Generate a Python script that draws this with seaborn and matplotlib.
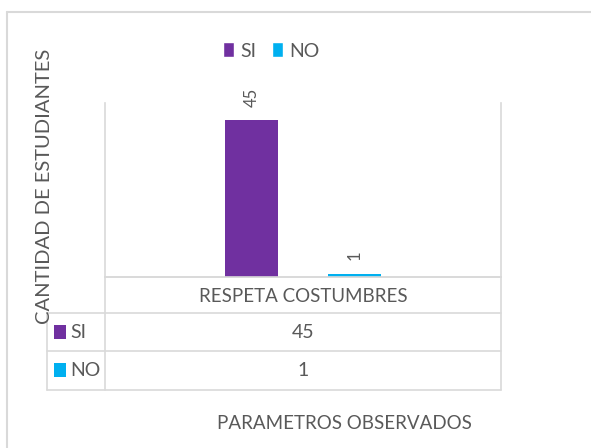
import matplotlib
matplotlib.use("Agg")
import matplotlib.pyplot as plt
from matplotlib.lines import Line2D
from matplotlib.patches import Patch, Rectangle
import pandas as pd
import seaborn as sns

# datos
parametros = ["RESPETA COSTUMBRES"]
respuestas = ["SI", "NO"]
cantidades = [45, 1]
colores = ["#7030A0", "#00B0F0"]

W, H = 591, 448
gris = "#595959"
linea = "#D9D9D9"

sns.set_theme(style="white")
plt.rcParams["font.family"] = ["Lato", "DejaVu Sans"]

df = pd.DataFrame({
    "parametro": parametros * len(respuestas),
    "respuesta": respuestas,
    "cantidad": cantidades,
})


def fx(x):
    return x / W


def fy(y):
    return 1 - y / H


def hline(x0, x1, y):
    fig.add_artist(Line2D([fx(x0), fx(x1)], [fy(y), fy(y)], color=linea, lw=1.2))


def vline(x, y0, y1):
    fig.add_artist(Line2D([fx(x), fx(x)], [fy(y0), fy(y1)], color=linea, lw=1.2))


fig = plt.figure(figsize=(W / 100, H / 100), dpi=100)
ax = fig.add_axes([fx(105), fy(277), fx(501) - fx(105), fy(103) - fy(277)])

sns.barplot(data=df, x="parametro", y="cantidad", hue="respuesta",
            palette=colores, saturation=1, width=0.52, gap=0.476,
            linewidth=0, edgecolor="none", ax=ax, legend=False)
ax.set_ylim(0, 50)
ax.set_xlim(-0.5, 0.5)
ax.set_xticks([])
ax.set_yticks([])
ax.set_xlabel("")
ax.set_ylabel("")
ax.spines["top"].set_visible(False)
for s in ["left", "right", "bottom"]:
    ax.spines[s].set_color(linea)
    ax.spines[s].set_linewidth(1.2)
    ax.spines[s].set_zorder(0)

for cont in ax.containers:
    ax.bar_label(cont, rotation=90, padding=10, color=gris, fontsize=12)

# leyenda superior
handles = [Patch(facecolor=c, label=r) for r, c in zip(respuestas, colores)]
fig.legend(handles=handles, loc="center", bbox_to_anchor=(fx(271), fy(51)),
           ncol=2, frameon=False, handlelength=0.6, handleheight=0.8,
           handletextpad=0.3, columnspacing=0.8, labelcolor=gris, fontsize=14)

# tabla de datos
hline(105, 501, 277)
for y in [313, 351, 390]:
    hline(47, 501, y)
vline(47, 313, 390)
vline(105, 277, 390)
vline(501, 277, 390)

fig.text(fx(303), fy(296), parametros[0], ha="center", va="center",
         color=gris, fontsize=13.5)
filas = [332, 370]
for r, v, c, yc in zip(respuestas, cantidades, colores, filas):
    fig.add_artist(Rectangle((fx(54), fy(yc + 7)), fx(12), 14 / H,
                             facecolor=c, edgecolor="none"))
    fig.text(fx(70), fy(yc), r, ha="left", va="center", color=gris, fontsize=14)
    fig.text(fx(303), fy(yc), str(v), ha="center", va="center",
             color=gris, fontsize=14)

# titulos de ejes
fig.text(fx(45), fy(186), "CANTIDAD DE ESTUDIANTES", rotation=90,
         ha="center", va="center", color=gris, fontsize=14.5)
fig.text(fx(344), fy(423), "PARAMETROS OBSERVADOS", ha="center", va="center",
         color=gris, fontsize=13.5)

# borde del grafico
fig.add_artist(Line2D([fx(7), fx(W)], [fy(12), fy(12)], color=linea, lw=1.5))
fig.add_artist(Line2D([fx(7), fx(7)], [fy(12), fy(H)], color=linea, lw=1.5))

fig.savefig("out.png", dpi=100)
